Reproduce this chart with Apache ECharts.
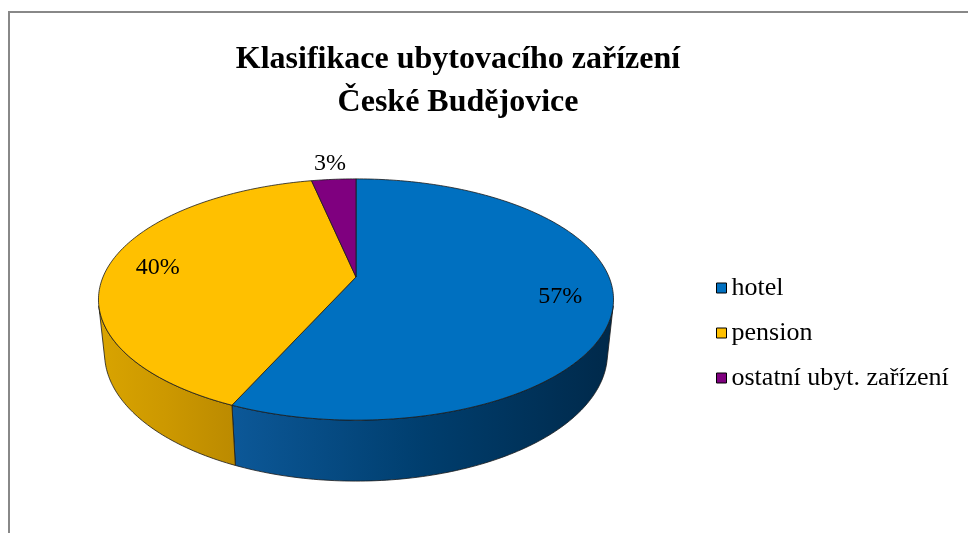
<!DOCTYPE html>
<html>
<head>
<meta charset="utf-8">
<script src="https://cdn.jsdelivr.net/npm/echarts@6/dist/echarts.min.js"></script>
<style>
  html, body { margin: 0; padding: 0; background: #fff; }
  #chart { width: 968px; height: 533px; }
</style>
</head>
<body>
<div id="chart"></div>
<script>
const titleLines = ['Klasifikace ubytovacího zařízení', 'České Budějovice'];
const categories = ['hotel', 'pension', 'ostatní ubyt. zařízení'];
const values = [17, 12, 1];

const topColors = ['#0070C0', '#FFC000', '#7F007F'];
const wallColors = [['#0c5898', '#003e6e', '#00294a'], ['#d9a400', '#cc9800', '#bb8a00'], ['#6a006a', '#5a005a', '#4a004a']];
const serif = '"Liberation Serif", "Times New Roman", serif';

// perspective camera for the tilted 3D pie (radius = 1)
const cx = 356, cy = 277;
const focal = 1203.5, dist = 4.757, depth = 0.242;
const tilt = 27.4 * Math.PI / 180;
const sinT = Math.sin(tilt), cosT = Math.cos(tilt);

function project(theta, r, level) {
  const X = r * Math.sin(theta), Z = r * Math.cos(theta), Y = -depth * level;
  const dy = Y - dist * sinT, dz = Z + dist * cosT;
  const w = -dy * sinT + dz * cosT;
  const up = dy * cosT + dz * sinT;
  return [cx + focal * X / w, cy - focal * up / w];
}

function arc(a0, a1, level) {
  const pts = [];
  const n = Math.max(2, Math.ceil(Math.abs(a1 - a0) / (Math.PI / 180)));
  for (let k = 0; k <= n; k++) pts.push(project(a0 + (a1 - a0) * k / n, 1, level));
  return pts;
}

const total = values.reduce((s, v) => s + v, 0);
const starts = [];
values.reduce((acc, v, i) => { starts[i] = acc; return acc + v; }, 0);

// front wall is visible where the cylinder faces the camera
const wallFrom = Math.acos(-1 / (dist * cosT));
const wallTo = 2 * Math.PI - wallFrom;

function renderSlice(i) {
  const a0 = starts[i] / total * 2 * Math.PI;
  const a1 = (starts[i] + values[i]) / total * 2 * Math.PI;
  const children = [];
  const line = { stroke: '#1a1a1a', lineWidth: 0.8, lineJoin: 'round' };

  const w0 = Math.max(a0, wallFrom), w1 = Math.min(a1, wallTo);
  if (w1 > w0) {
    const pts = arc(w0, w1, 0).concat(arc(w1, w0, 1));
    const c = wallColors[i];
    children.push({
      type: 'polygon',
      shape: { points: pts },
      style: Object.assign({
        fill: new echarts.graphic.LinearGradient(0, 0, 1, 0, [
          { offset: 0, color: c[0] }, { offset: 0.5, color: c[1] }, { offset: 1, color: c[2] }
        ])
      }, line)
    });
  }

  children.push({
    type: 'polygon',
    shape: { points: [project(0, 0, 0)].concat(arc(a0, a1, 0)) },
    style: Object.assign({ fill: topColors[i] }, line)
  });

  const share = values[i] / total;
  const mid = (a0 + a1) / 2;
  const pos = project(mid, share < 0.05 ? 1.2 : 0.8, 0);
  children.push({
    type: 'text',
    x: pos[0],
    y: pos[1],
    z2: 10,
    style: {
      text: Math.round(share * 100) + '%',
      font: '24px ' + serif,
      fill: '#000',
      textAlign: 'center',
      textVerticalAlign: 'middle'
    }
  });

  return { type: 'group', children };
}

const chart = echarts.init(document.getElementById('chart'), null, { renderer: 'canvas' });

chart.setOption({
  animation: false,
  backgroundColor: '#fff',
  title: {
    text: titleLines.join('\n'),
    left: 458,
    top: 38,
    padding: 0,
    textAlign: 'center',
    textStyle: { fontFamily: serif, fontWeight: 'bold', fontSize: 32, lineHeight: 43, color: '#000' }
  },
  legend: {
    orient: 'vertical',
    left: 716,
    top: 275,
    padding: 0,
    icon: 'rect',
    itemWidth: 10,
    itemHeight: 10,
    itemGap: 19,
    data: categories,
    itemStyle: { borderColor: '#000', borderWidth: 1 },
    textStyle: { fontFamily: serif, fontSize: 26, lineHeight: 24, color: '#000' }
  },
  graphic: [{
    type: 'rect',
    shape: { x: 9, y: 12, width: 1000, height: 600 },
    style: { fill: 'none', stroke: '#888', lineWidth: 2 }
  }],
  series: categories.map((name, i) => ({
    type: 'custom',
    name: name,
    coordinateSystem: 'none',
    itemStyle: { color: topColors[i] },
    data: [values[i]],
    renderItem: () => renderSlice(i)
  }))
});
</script>
</body>
</html>
